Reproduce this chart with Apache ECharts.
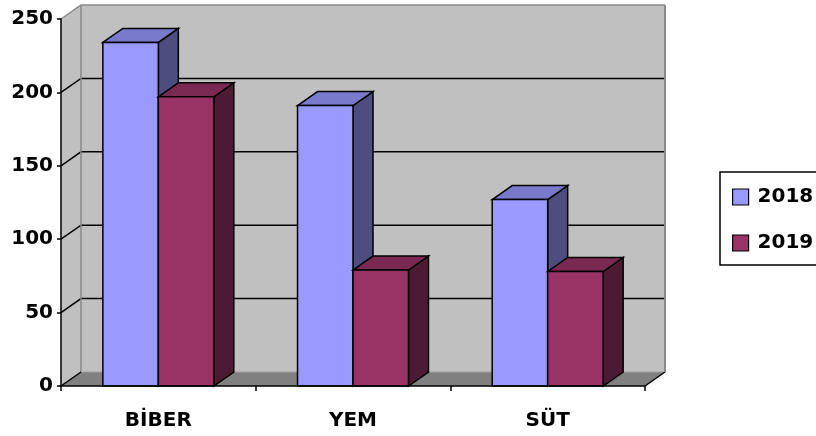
<!DOCTYPE html>
<html><head><meta charset="utf-8">
<script src="https://cdn.jsdelivr.net/npm/echarts@6/dist/echarts.min.js"></script>
<style>html,body{margin:0;padding:0;background:#fff}#c{width:816px;height:436px}</style>
</head><body><div id="c"></div>
<script>
var categories = ['BİBER', 'YEM', 'SÜT'];
var seriesNames = ['2018', '2019'];
var values2018 = [234, 191, 127];
var values2019 = [197, 79, 78];
var yTicks = [0, 50, 100, 150, 200, 250];

var FONT = 'DejaVu Sans';
var DX = 20, DY = -14;
var faceStyles = [
  { front: '#9999ff', top: '#7a7acc', side: '#4d4d80' },
  { front: '#993366', top: '#7a2952', side: '#4d1a33' }
];

function makeBarRender(idx) {
  return function (params, api) {
    var ci = api.value(0), v = api.value(1);
    var p = api.coord([ci, v]);
    var b = api.coord([ci, 0]);
    var bw = api.size([1, 0])[0] * 0.285;
    var x0 = idx === 0 ? p[0] - bw : p[0];
    var x1 = x0 + bw;
    var yt = p[1], yb = b[1];
    var f = faceStyles[idx];
    var st = { stroke: '#000', lineWidth: 1.5, lineJoin: 'miter' };
    return {
      type: 'group',
      children: [
        { type: 'polygon', shape: { points: [[x1, yt], [x1 + DX, yt + DY], [x1 + DX, yb + DY], [x1, yb]] },
          style: Object.assign({ fill: f.side }, st) },
        { type: 'polygon', shape: { points: [[x0, yt], [x0 + DX, yt + DY], [x1 + DX, yt + DY], [x1, yt]] },
          style: Object.assign({ fill: f.top }, st) },
        { type: 'polygon', shape: { points: [[x0, yt], [x1, yt], [x1, yb], [x0, yb]] },
          style: Object.assign({ fill: f.front }, st) }
      ]
    };
  };
}

function wallsRender(params, api) {
  var cs = params.coordSys;
  var L = cs.x, R = cs.x + cs.width, T = cs.y, B = cs.y + cs.height;
  var ch = [];
  ch.push({ type: 'polygon', shape: { points: [[L, B], [L, T], [L + DX, T + DY], [L + DX, B + DY]] }, style: { fill: '#c0c0c0' } });
  ch.push({ type: 'rect', shape: { x: L + DX, y: T + DY, width: R - L, height: B - T }, style: { fill: '#c0c0c0' } });
  ch.push({ type: 'polygon', shape: { points: [[L, B], [L + DX, B + DY], [R + DX, B + DY], [R, B]] }, style: { fill: '#808080' } });
  yTicks.forEach(function (t) {
    var y = api.coord([0, t])[1];
    if (t === 0) return;
    var isTop = t === yTicks[yTicks.length - 1];
    var col = isTop ? '#8a8a8a' : '#000';
    ch.push({ type: 'polyline', shape: { points: [[L, y], [L + DX, y + DY], [R + DX, y + DY]] },
      style: { stroke: col, lineWidth: 1.5, fill: null } });
  });
  ch.push({ type: 'line', shape: { x1: L + DX, y1: T + DY, x2: L + DX, y2: B + DY }, style: { stroke: '#8a8a8a', lineWidth: 1.5 } });
  ch.push({ type: 'line', shape: { x1: R + DX, y1: T + DY, x2: R + DX, y2: B + DY }, style: { stroke: '#8a8a8a', lineWidth: 2 } });
  ch.push({ type: 'line', shape: { x1: L + DX, y1: B + DY, x2: R + DX, y2: B + DY }, style: { stroke: '#a0a0a0', lineWidth: 1 } });
  ch.push({ type: 'line', shape: { x1: L, y1: B, x2: L + DX, y2: B + DY }, style: { stroke: '#000', lineWidth: 1.5 } });
  ch.push({ type: 'line', shape: { x1: R, y1: B, x2: R + DX, y2: B + DY }, style: { stroke: '#000', lineWidth: 1.5 } });
  return { type: 'group', children: ch };
}

var chart = echarts.init(document.getElementById('c'), null, { renderer: 'canvas' });
var labelStyle = { fontSize: 20, fontWeight: 'bold', fontFamily: FONT, color: '#000' };
chart.setOption({
  animation: false,
  backgroundColor: '#fff',
  grid: { left: 61, right: 171, top: 19, bottom: 50 },
  legend: {
    data: seriesNames,
    orient: 'vertical', left: 720, top: 172,
    padding: [15, 40, 12, 12], itemGap: 26, itemWidth: 16, itemHeight: 16,
    borderColor: '#000', borderWidth: 1.5, icon: 'rect',
    itemStyle: { borderColor: '#000', borderWidth: 1.2 },
    textStyle: Object.assign({ padding: [0, 0, 0, 4] }, labelStyle)
  },
  xAxis: {
    type: 'category', data: categories, z: 5,
    axisLine: { lineStyle: { color: '#000', width: 1.5 } },
    axisTick: { show: true, length: 5, lineStyle: { color: '#000', width: 1.5 } },
    axisLabel: Object.assign({ margin: 25 }, labelStyle),
    splitLine: { show: false }
  },
  yAxis: {
    type: 'value', min: 0, max: 250, interval: 50, z: 5,
    axisLine: { show: true, lineStyle: { color: '#000', width: 1.5 } },
    axisTick: { show: true, length: 4, lineStyle: { color: '#000', width: 1.5 } },
    axisLabel: Object.assign({ margin: 8 }, labelStyle),
    splitLine: { show: false }
  },
  series: [
    { type: 'custom', name: 'walls', renderItem: wallsRender, data: [[0, 0]], silent: true, z: 1, clip: false },
    { type: 'custom', name: seriesNames[0], renderItem: makeBarRender(0), z: 2, clip: false,
      itemStyle: { color: faceStyles[0].front },
      data: categories.map(function (c, i) { return [i, values2018[i]]; }) },
    { type: 'custom', name: seriesNames[1], renderItem: makeBarRender(1), z: 2, clip: false,
      itemStyle: { color: faceStyles[1].front },
      data: categories.map(function (c, i) { return [i, values2019[i]]; }) }
  ]
});
</script>
</body></html>
